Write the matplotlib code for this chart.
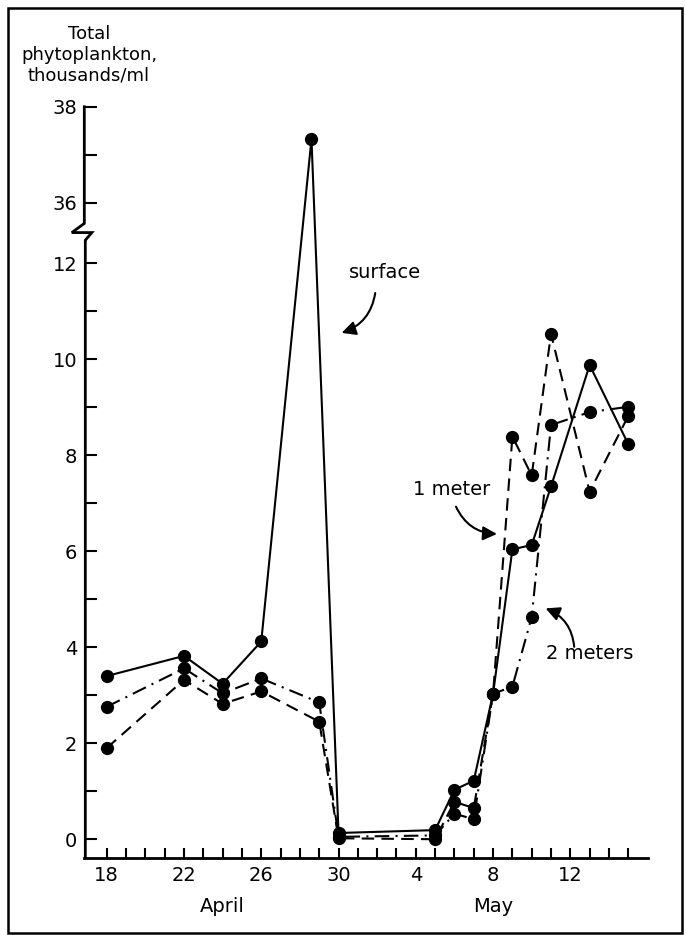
import numpy as np
import matplotlib
matplotlib.use("Agg")
import matplotlib.pyplot as plt
from matplotlib.patches import Rectangle

# =========================
# 1. Data (days counted from April 1; May d -> 30 + d)
# =========================
surface_days = [18, 22, 24, 26, 28.6, 30, 35, 36, 37, 38, 39, 40, 41, 43, 45]
surface_vals = [3.40, 3.82, 3.24, 4.12, 37.33, 0.13, 0.19, 1.03, 1.22, 3.03, 6.04, 6.13, 7.35, 9.88, 8.23]

one_m_days = [18, 22, 24, 26, 29, 30, 35, 36, 37, 38, 39, 40, 41, 43, 45]
one_m_vals = [1.90, 3.32, 2.82, 3.08, 2.45, 0.02, 0.00, 0.78, 0.65, 3.03, 8.39, 7.58, 10.53, 7.24, 8.82]

two_m_days = [18, 22, 24, 26, 29, 30, 35, 36, 37, 38, 39, 40, 41, 43, 45]
two_m_vals = [2.76, 3.56, 3.04, 3.35, 2.85, 0.05, 0.08, 0.53, 0.42, 3.03, 3.18, 4.63, 8.63, 8.90, 9.01]

xtick_pos = [18, 22, 26, 30, 34, 38, 42]
xtick_labels = ["18", "22", "26", "30", "4", "8", "12"]
ytick_major = [0, 2, 4, 6, 8, 10, 12, 36, 38]
ytick_minor = [1, 3, 5, 7, 9, 11, 37]

# =========================
# 2. Broken y scale (12.65 .. 35.39 squeezed out)
# =========================
brk_lo, brk_hi = 12.65, 35.39
v_pts = [-100, brk_lo, brk_hi, 100]
t_pts = [-100, brk_lo, brk_lo + 0.001, brk_lo + 0.001 + (100 - brk_hi)]

def fwd(v):
    return np.interp(v, v_pts, t_pts)

def inv(t):
    return np.interp(t, t_pts, v_pts)

# =========================
# 3. Plot
# =========================
plt.rcParams["font.family"] = ["DejaVu Sans"]

fig = plt.figure(figsize=(6.86, 9.35), dpi=100)
ax = fig.add_axes([0.1229, 0.0824, 0.8217, 0.8034])
ax.set_yscale("function", functions=(fwd, inv))

lw = 1.5
ms = 8.5
ax.plot(surface_days, surface_vals, color="k", lw=lw, marker="o", ms=ms)
ax.plot(one_m_days, one_m_vals, color="k", lw=lw, marker="o", ms=ms,
        dashes=(6, 3.5))
ax.plot(two_m_days, two_m_vals, color="k", lw=lw, marker="o", ms=ms,
        dashes=(7, 3, 1, 3))

ax.set_xlim(16.84, 46.02)
ax.set_ylim(-0.39, 38)

ax.set_xticks(range(18, 46), minor=True)
ax.set_xticks(xtick_pos)
ax.set_xticklabels(xtick_labels)
ax.set_yticks(ytick_major)
ax.set_yticks(ytick_minor, minor=True)
ax.set_yticklabels([str(v) for v in ytick_major])

ax.tick_params(axis="x", which="both", direction="in", length=7.5, width=1.5,
               labelsize=14, pad=6)
ax.tick_params(axis="y", which="both", direction="in", length=9, width=1.5,
               labelsize=14, pad=5)

for s in ["top", "right", "left"]:
    ax.spines[s].set_visible(False)
ax.spines["bottom"].set_linewidth(2)

# left spine with the zigzag break
ytr = ax.get_yaxis_transform()
aw = 563.7  # axes width in pixels
spine_x = [0, 0, -12.5 / aw, 7.5 / aw, 1 / aw, 1 / aw, 1 / aw]
spine_y = [38, 35.57, 12.64, 12.64, 12.48, 12.45, -0.39]
ax.plot(spine_x, spine_y, color="k", lw=2, transform=ytr, clip_on=False,
        solid_joinstyle="miter")

# month labels
xtr = ax.get_xaxis_transform()
ax.text(24, -0.065, "April", transform=xtr, ha="center", va="center", fontsize=14)
ax.text(38, -0.065, "May", transform=xtr, ha="center", va="center", fontsize=14)

# y label
fig.text(0.1297, 0.9412, "Total\nphytoplankton,\nthousands/ml", ha="center",
         va="center", fontsize=13, linespacing=1.2)

# curve labels with arrows
ax.text(32.4, 11.8, "surface", ha="center", va="center", fontsize=14)
ax.text(35.86, 7.28, "1 meter", ha="center", va="center", fontsize=14)
ax.text(43.0, 3.88, "2 meters", ha="center", va="center", fontsize=14)

arrow_kw = dict(arrowstyle="-|>,head_length=0.6,head_width=0.3", color="k",
                lw=1.5, mutation_scale=14, shrinkA=0, shrinkB=0)
ax.annotate("", xy=(30.16, 10.55), xytext=(31.9, 11.38),
            arrowprops=dict(connectionstyle="arc3,rad=-0.3", **arrow_kw))
ax.annotate("", xy=(38.2, 6.36), xytext=(36.08, 6.93),
            arrowprops=dict(connectionstyle="arc3,rad=0.3", **arrow_kw))
ax.annotate("", xy=(40.72, 4.81), xytext=(42.2, 4.01),
            arrowprops=dict(connectionstyle="arc3,rad=0.3", **arrow_kw))

# frame around the figure
fig.patches.append(Rectangle((0.0117, 0.002), 0.982, 0.989, transform=fig.transFigure,
                             fill=False, edgecolor="k", lw=1.8))

fig.savefig("out.png", dpi=100)
